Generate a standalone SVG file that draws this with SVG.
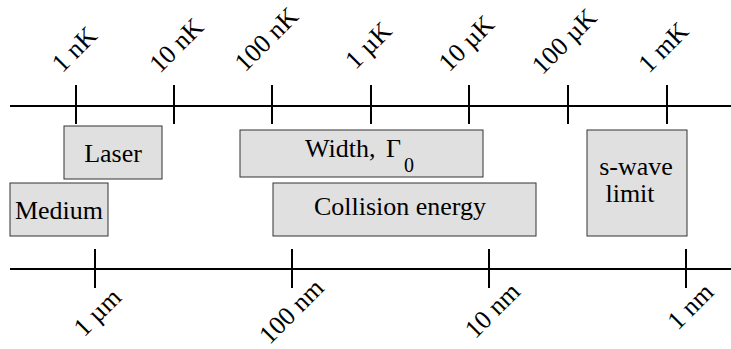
<svg xmlns="http://www.w3.org/2000/svg" width="731" height="349" viewBox="0 0 731 349">
<style>
.ax{stroke:#000;stroke-width:2;fill:none}
.box{fill:#e0e0e0;stroke:#333;stroke-width:1}
</style>
<rect width="731" height="349" fill="#fff"/>
<g id="connectors">
<path class="ax" d="M10 106H731M10 269H731"/>
<path class="ax" d="M76 85V124M174 85V124M272 85V124M371 85V124M469 85V124M568 85V124M667 85V124"/>
<path class="ax" d="M95 249V288M292 249V288M489 249V288M686 249V288"/>
</g>
<g id="temp-scale">
<g transform="translate(74,49) rotate(-45)"><text x="0" y="9" text-anchor="middle" font-family="Liberation Serif" font-size="26">1 nK</text></g>
<g transform="translate(176,45) rotate(-45)"><text x="0" y="9" text-anchor="middle" font-family="Liberation Serif" font-size="26">10 nK</text></g>
<g transform="translate(266,39) rotate(-45)"><text x="0" y="9" text-anchor="middle" font-family="Liberation Serif" font-size="26">100 nK</text></g>
<g transform="translate(368,45) rotate(-45)"><text x="0" y="9" text-anchor="middle" font-family="Liberation Serif" font-size="26">1 &#181;K</text></g>
<g transform="translate(466,43) rotate(-45)"><text x="0" y="9" text-anchor="middle" font-family="Liberation Serif" font-size="26">10 &#181;K</text></g>
<g transform="translate(564,41) rotate(-45)"><text x="0" y="9" text-anchor="middle" font-family="Liberation Serif" font-size="26">100 &#181;K</text></g>
<g transform="translate(663,47) rotate(-45)"><text x="0" y="9" text-anchor="middle" font-family="Liberation Serif" font-size="26">1 mK</text></g>
</g>
<g id="length-scale">
<g transform="translate(97,312) rotate(-45)"><text x="0" y="9" text-anchor="middle" font-family="Liberation Serif" font-size="26">1 &#181;m</text></g>
<g transform="translate(291,311) rotate(-45)"><text x="0" y="9" text-anchor="middle" font-family="Liberation Serif" font-size="26">100 nm</text></g>
<g transform="translate(492,310) rotate(-45)"><text x="0" y="9" text-anchor="middle" font-family="Liberation Serif" font-size="26">10 nm</text></g>
<g transform="translate(690,306) rotate(-45)"><text x="0" y="9" text-anchor="middle" font-family="Liberation Serif" font-size="26">1 nm</text></g>
</g>
<g id="node-laser">
<rect class="box" x="64" y="126" width="98" height="53"/>
<text x="113" y="162" text-anchor="middle" font-family="Liberation Serif" font-size="26">Laser</text>
</g>
<g id="node-medium">
<rect class="box" x="10" y="183" width="98" height="53"/>
<text x="59" y="219" text-anchor="middle" font-family="Liberation Serif" font-size="26">Medium</text>
</g>
<g id="node-gamma">
<rect class="box" x="240" y="130" width="243" height="47"/>
<text x="305" y="157" font-family="Liberation Serif" font-size="26">Width,</text>
<text x="386" y="157" font-family="Liberation Serif" font-size="26">&#915;</text>
<text x="404" y="172" font-family="Liberation Serif" font-size="20">0</text>
</g>
<g id="node-collision">
<rect class="box" x="273" y="183" width="263" height="53"/>
<text x="400" y="215" text-anchor="middle" font-family="Liberation Serif" font-size="26">Collision energy</text>
</g>
<g id="node-swave">
<rect class="box" x="587" y="130" width="100" height="106"/>
<text x="636" y="175" text-anchor="middle" font-family="Liberation Serif" font-size="26">s-wave</text>
<text x="630" y="202" text-anchor="middle" font-family="Liberation Serif" font-size="26">limit</text>
</g>
</svg>
